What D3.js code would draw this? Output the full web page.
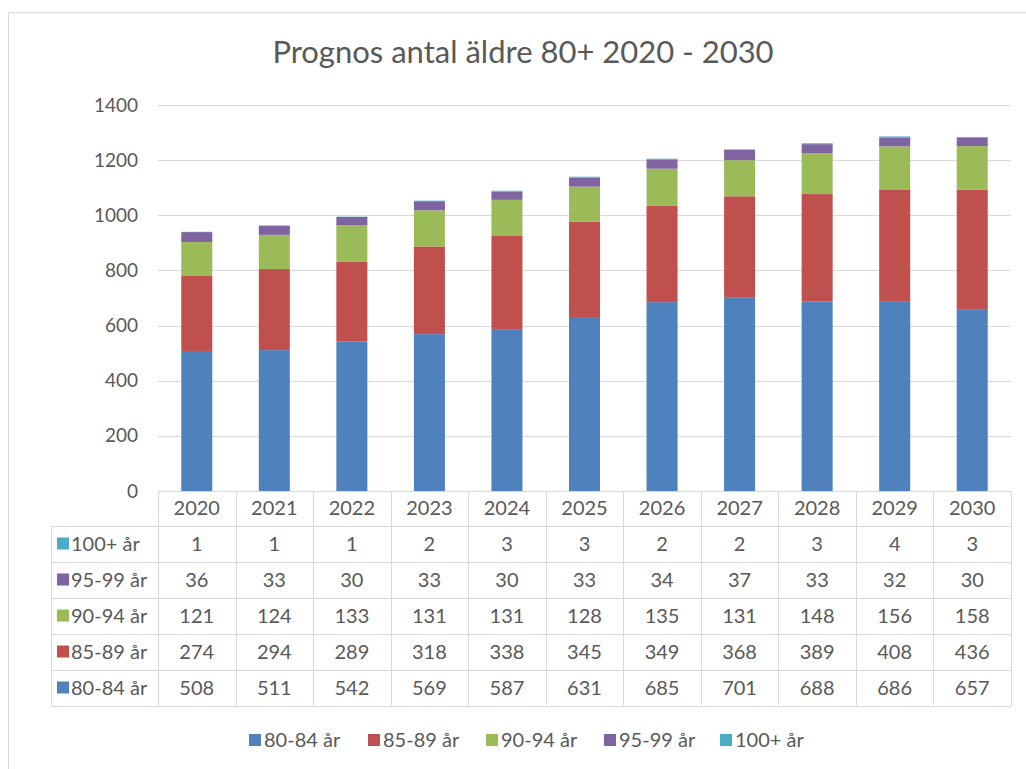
<!DOCTYPE html>
<html>
<head>
<meta charset="utf-8">
<script src="https://cdn.jsdelivr.net/npm/d3@7"></script>
<style>
  body { margin: 0; background: #fff; }
  text { font-family: Lato, "Open Sans", sans-serif; fill: #595959; }
</style>
</head>
<body>
<div id="chart"></div>
<script>
// data
var years = ["2020","2021","2022","2023","2024","2025","2026","2027","2028","2029","2030"];
var seriesNames = ["80-84 år","85-89 år","90-94 år","95-99 år","100+ år"];
var s80 = [508,511,542,569,587,631,685,701,688,686,657];
var s85 = [274,294,289,318,338,345,349,368,389,408,436];
var s90 = [121,124,133,131,131,128,135,131,148,156,158];
var s95 = [36,33,30,33,30,33,34,37,33,32,30];
var s100 = [1,1,1,2,3,3,2,2,3,4,3];
var yTicks = [0,200,400,600,800,1000,1200,1400];
var colors = ["#4f81bd","#c0504d","#9bbb59","#8064a2","#4bacc6"];

var W = 1026, H = 769;
var plot = {left: 158, right: 1011, top: 105, bottom: 491};

var svg = d3.select("#chart").append("svg")
  .attr("width", W).attr("height", H);

// chart frame
svg.append("rect")
  .attr("x", 8.5).attr("y", 12.5)
  .attr("width", 1040).attr("height", 800)
  .attr("fill", "none").attr("stroke", "#d9d9d9");

svg.append("text")
  .attr("x", 523).attr("y", 63)
  .attr("text-anchor", "middle")
  .style("font-size", "31px")
  .text("Prognos antal äldre 80+ 2020 - 2030");

var x = d3.scaleBand().domain(years).range([plot.left, plot.right]).paddingInner(0).paddingOuter(0);
var y = d3.scaleLinear().domain([0, 1400]).range([plot.bottom, plot.top]);

// gridlines
svg.append("g").selectAll("line")
  .data(yTicks.filter(d => d > 0))
  .enter().append("line")
  .attr("x1", plot.left).attr("x2", plot.right)
  .attr("y1", d => Math.round(y(d)) + 0.5).attr("y2", d => Math.round(y(d)) + 0.5)
  .attr("stroke", "#d9d9d9");

// y axis labels
var yAxis = svg.append("g")
  .attr("transform", "translate(" + (plot.left - 8) + ",0)")
  .call(d3.axisLeft(y).tickValues(yTicks).tickFormat(d3.format("d")).tickSize(0).tickPadding(12));
yAxis.select(".domain").remove();
yAxis.selectAll("text").style("font-size", "19px").style("font-family", "Lato, sans-serif").attr("fill", "#595959");

// stacked bars
var rows = years.map(function(yr, i) {
  return {year: yr, a: s80[i], b: s85[i], c: s90[i], d: s95[i], e: s100[i]};
});
var stack = d3.stack().keys(["a","b","c","d","e"]);
var layers = stack(rows);
var barW = x.bandwidth() * 0.4;

svg.append("g").selectAll("g")
  .data(layers)
  .enter().append("g")
  .attr("fill", (d, i) => colors[i])
  .selectAll("rect")
  .data(d => d)
  .enter().append("rect")
  .attr("x", d => x(d.data.year) + (x.bandwidth() - barW) / 2)
  .attr("y", d => y(d[1]))
  .attr("width", barW)
  .attr("height", d => y(d[0]) - y(d[1]));

// data table
var tableTop = 491, headH = 34.5, rowH = 36, labelLeft = 51;
var tableRows = [s100, s95, s90, s85, s80];
var rowNames = [seriesNames[4], seriesNames[3], seriesNames[2], seriesNames[1], seriesNames[0]];
var rowColors = [colors[4], colors[3], colors[2], colors[1], colors[0]];
var tableBottom = tableTop + headH + rowH * 5;
var grid = svg.append("g").attr("stroke", "#d9d9d9").attr("fill", "none");

grid.append("line").attr("x1", plot.left).attr("x2", plot.right)
  .attr("y1", tableTop + 0.5).attr("y2", tableTop + 0.5);
d3.range(6).forEach(function(k) {
  var yy = Math.round(tableTop + headH + rowH * k) + 0.5;
  grid.append("line").attr("x1", labelLeft).attr("x2", plot.right).attr("y1", yy).attr("y2", yy);
});
years.concat(["end"]).forEach(function(yr, i) {
  var xx = Math.round(i < years.length ? x(yr) : plot.right) + 0.5;
  grid.append("line").attr("x1", xx).attr("x2", xx).attr("y1", tableTop).attr("y2", tableBottom);
});
grid.append("line").attr("x1", labelLeft + 0.5).attr("x2", labelLeft + 0.5)
  .attr("y1", tableTop + headH).attr("y2", tableBottom);

// year header
svg.append("g").selectAll("text")
  .data(years).enter().append("text")
  .attr("x", d => x(d) + x.bandwidth() / 2)
  .attr("y", tableTop + headH / 2 + 7)
  .attr("text-anchor", "middle")
  .style("font-size", "20px")
  .text(d => d);

// row labels + values
tableRows.forEach(function(vals, r) {
  var cy = tableTop + headH + rowH * r + rowH / 2;
  svg.append("rect")
    .attr("x", 57).attr("y", cy - 6).attr("width", 12).attr("height", 12)
    .attr("fill", rowColors[r]);
  svg.append("text")
    .attr("x", 71).attr("y", cy + 7)
    .style("font-size", "20px")
    .text(rowNames[r]);
  svg.append("g").selectAll("text")
    .data(vals).enter().append("text")
    .attr("x", (d, i) => x(years[i]) + x.bandwidth() / 2)
    .attr("y", cy + 7)
    .attr("text-anchor", "middle")
    .style("font-size", "20px")
    .text(d => d);
});

// legend
var legendX = [249, 368, 486, 604, 720];
var legend = svg.append("g").selectAll("g")
  .data(seriesNames).enter().append("g")
  .attr("transform", (d, i) => "translate(" + legendX[i] + ",740)");
legend.append("rect").attr("x", 0).attr("y", -6).attr("width", 12).attr("height", 12)
  .attr("fill", (d, i) => colors[i]);
legend.append("text").attr("x", 15).attr("y", 7)
  .style("font-size", "20px")
  .text(d => d);
</script>
</body>
</html>
